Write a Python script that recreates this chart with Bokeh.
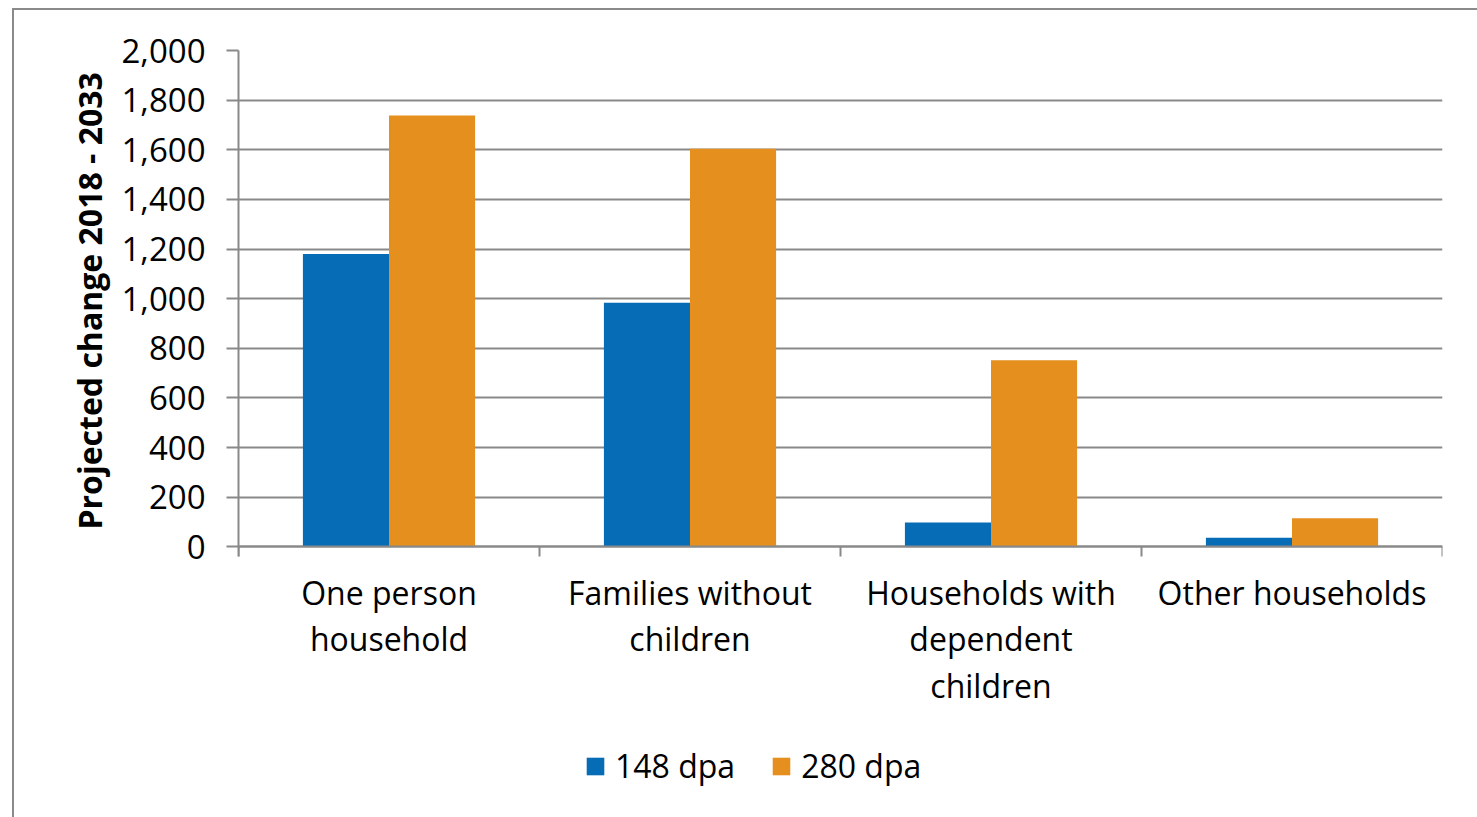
from bokeh.plotting import figure
from bokeh.models import (ColumnDataSource, FixedTicker, Legend, LegendItem,
                          NumeralTickFormatter, Range1d, Title)
from bokeh.embed import file_html
from bokeh.resources import INLINE

categories = ["One person household", "Families without children",
              "Households with dependent children", "Other households"]
cat_labels = ["One person\nhousehold", "Families without\nchildren",
              "Households with\ndependent\nchildren", "Other households"]
series_names = ["148 dpa", "280 dpa"]
s148 = [1180, 983, 98, 37]
s280 = [1738, 1604, 752, 115]
y_ticks = [0, 200, 400, 600, 800, 1000, 1200, 1400, 1600, 1800, 2000]
y_title = "Projected change 2018 - 2033"

BLUE = "#066CB6"
ORANGE = "#E58F1E"
GRID = "#898989"
FONT = "Open Sans"

# layout geometry (pixels)
TOP = 40            # frame top below content top
VALUE_H = 495       # pixel height of the 0..2000 value band
BELOW = 262         # frame extends this far below the zero line (room for labels/legend)
Y_MAX = y_ticks[-1]
units_per_px = Y_MAX / VALUE_H
y_start = -BELOW * units_per_px

n = len(categories)
centers = [i + 0.5 for i in range(n)]
bw = 0.286

src = ColumnDataSource(dict(
    x1=[c - bw / 2 for c in centers],
    x2=[c + bw / 2 for c in centers],
    v1=s148, v2=s280,
))

p = figure(width=1465, height=809, output_backend="svg", toolbar_location=None,
           x_range=Range1d(0, n), y_range=Range1d(y_start, Y_MAX),
           min_border_left=224, min_border_top=TOP, min_border_right=37,
           min_border_bottom=10)
p.styles = {"border-top": "2px solid #8a8a8a", "border-left": "2px solid #8a8a8a",
            "margin-left": "12px", "margin-top": "8px"}
p.outline_line_color = None

r1 = p.vbar(x="x1", top="v1", width=bw, bottom=0, source=src,
            fill_color=BLUE, line_color=None)
r2 = p.vbar(x="x2", top="v2", width=bw, bottom=0, source=src,
            fill_color=ORANGE, line_color=None)

# grid
p.xgrid.grid_line_color = None
p.ygrid.grid_line_color = GRID
p.ygrid.grid_line_width = 2
p.ygrid.level = "underlay"

# y axis
ya = p.yaxis[0]
ya.ticker = FixedTicker(ticks=y_ticks)
ya.bounds = (-10 * units_per_px, Y_MAX)
ya.formatter = NumeralTickFormatter(format="0,0")
ya.axis_line_color = GRID
ya.axis_line_width = 2
ya.major_tick_line_color = GRID
ya.major_tick_line_width = 2
ya.major_tick_out = 12
ya.major_tick_in = 0
ya.minor_tick_line_color = None
ya.major_label_text_font = FONT
ya.major_label_text_font_size = "33px"
ya.major_label_text_color = "black"
ya.major_label_standoff = 21

# y axis title, placed along the value band
p.add_layout(Title(text=y_title, align="left", offset=280,
                   text_font=FONT, text_font_style="bold", text_font_size="32px",
                   text_color="black", standoff=16), "left")

# x axis, pinned at the zero line
xa = p.xaxis[0]
xa.fixed_location = 0
xa.ticker = FixedTicker(ticks=centers, minor_ticks=list(range(n + 1)))
xa.major_label_overrides = {c: lab for c, lab in zip(centers, cat_labels)}
xa.axis_line_color = GRID
xa.axis_line_width = 2
xa.major_tick_line_color = None
xa.minor_tick_line_color = GRID
xa.minor_tick_line_width = 2
xa.minor_tick_out = 10
xa.minor_tick_in = 0
xa.major_label_text_font = FONT
xa.major_label_text_font_size = "32px"
xa.major_label_text_line_height = 1.08
xa.major_label_text_color = "black"
xa.major_label_standoff = 14

legend = Legend(items=[LegendItem(label=series_names[0], renderers=[r1]),
                       LegendItem(label=series_names[1], renderers=[r2])],
                orientation="horizontal", location=(346, 22),
                label_text_font=FONT, label_text_font_size="32px",
                label_text_color="black", glyph_width=22, glyph_height=22,
                label_standoff=9, spacing=35, padding=0, margin=0,
                border_line_color=None, background_fill_alpha=0)
p.add_layout(legend, "center")

open("out.html", "w").write(file_html(p, INLINE))
